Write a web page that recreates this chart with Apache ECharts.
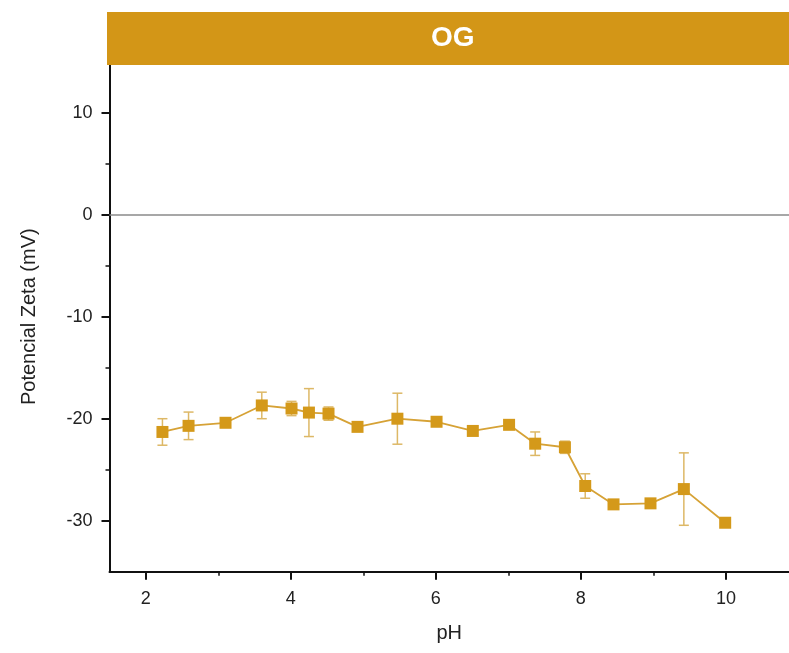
<!DOCTYPE html>
<html>
<head>
<meta charset="utf-8">
<script src="https://cdn.jsdelivr.net/npm/echarts@6/dist/echarts.min.js"></script>
<style>html,body{margin:0;padding:0;background:#fff}#c{width:789px;height:653px}</style>
</head>
<body>
<div id="c"></div>
<script>
// Data
const pH =      [2.23, 2.59, 3.10, 3.60, 4.01, 4.25, 4.52, 4.92, 5.47, 6.01, 6.51, 7.01, 7.37, 7.78, 8.06, 8.45, 8.96, 9.42, 9.99];
const zeta =    [-21.3, -20.7, -20.4, -18.7, -19.0, -19.4, -19.5, -20.8, -20.0, -20.3, -21.2, -20.6, -22.45, -22.8, -26.6, -28.4, -28.3, -26.9, -30.2];
const zetaErr = [1.3, 1.35, 0, 1.3, 0.7, 2.35, 0.65, 0, 2.5, 0, 0, 0, 1.15, 0.6, 1.2, 0, 0, 3.55, 0];
const xMajorTicks = [2, 4, 6, 8, 10];
const xMinorTicks = [3, 5, 7, 9];
const yMajorTicks = [-30, -20, -10, 0, 10];
const yMinorTicks = [-25, -15, -5, 5];
const titleText = 'OG';

const gold = '#D4991A';
const lineData = pH.map((x, i) => [x, zeta[i]]);
const errData = pH.map((x, i) => [x, zeta[i] - zetaErr[i], zeta[i] + zetaErr[i]]).filter((d, i) => zetaErr[i] > 0);

const chart = echarts.init(document.getElementById('c'), null, {renderer: 'canvas'});
const font = '"Liberation Sans", Arial, sans-serif';
const axisCommon = {
  type: 'value',
  splitLine: {show: false},
  axisLine: {show: true, onZero: false, lineStyle: {color: '#111', width: 2}},
};
chart.setOption({
  animation: false,
  grid: {left: 109.5, right: 0, top: 61.7, bottom: 81.3, containLabel: false},
  xAxis: [
    Object.assign({}, axisCommon, {
      min: 1.5, max: 10.87,
      name: 'pH', nameLocation: 'middle', nameGap: 52,
      nameTextStyle: {fontFamily: font, fontSize: 20, color: '#222'},
      axisTick: {show: true, inside: false, length: 8, lineStyle: {color: '#111', width: 2}, customValues: xMajorTicks},
      axisLabel: {show: true, margin: 18, fontFamily: font, fontSize: 18, color: '#222', customValues: xMajorTicks}
    }),
    Object.assign({}, axisCommon, {
      min: 1.5, max: 10.87, position: 'bottom',
      axisLine: {show: false, onZero: false},
      axisTick: {show: true, length: 4, lineStyle: {color: '#111', width: 1.5}, customValues: xMinorTicks},
      axisLabel: {show: false}
    })
  ],
  yAxis: [
    Object.assign({}, axisCommon, {
      min: -35, max: 15,
      name: 'Potencial Zeta (mV)', nameLocation: 'middle', nameGap: 70,
      nameTextStyle: {fontFamily: font, fontSize: 20, color: '#222'},
      axisTick: {show: true, length: 8, lineStyle: {color: '#111', width: 2}, customValues: yMajorTicks},
      axisLabel: {show: true, margin: 17, fontFamily: font, fontSize: 18, color: '#222', customValues: yMajorTicks}
    }),
    Object.assign({}, axisCommon, {
      min: -35, max: 15, position: 'left',
      axisLine: {show: false, onZero: false},
      axisTick: {show: true, length: 4, lineStyle: {color: '#111', width: 1.5}, customValues: yMinorTicks},
      axisLabel: {show: false}
    })
  ],
  series: [
    {
      type: 'custom',
      xAxisIndex: 0, yAxisIndex: 0,
      data: errData,
      z: 1,
      renderItem: function (params, api) {
        const x = api.value(0);
        const lo = api.coord([x, api.value(1)]);
        const hi = api.coord([x, api.value(2)]);
        const hw = 5;
        const st = {stroke: '#DDB866', lineWidth: 1.5};
        return {
          type: 'group',
          children: [
            {type: 'line', shape: {x1: lo[0], y1: lo[1], x2: hi[0], y2: hi[1]}, style: st},
            {type: 'line', shape: {x1: lo[0] - hw, y1: lo[1], x2: lo[0] + hw, y2: lo[1]}, style: st},
            {type: 'line', shape: {x1: hi[0] - hw, y1: hi[1], x2: hi[0] + hw, y2: hi[1]}, style: st}
          ]
        };
      }
    },
    {
      type: 'line',
      xAxisIndex: 0, yAxisIndex: 0,
      data: lineData,
      z: 3,
      symbol: 'rect', symbolSize: 12,
      itemStyle: {color: gold},
      lineStyle: {color: '#D6A236', width: 1.8},
      markLine: {
        silent: true, symbol: ['none', 'none'],
        label: {show: false},
        lineStyle: {color: '#8a8a8a', width: 1.5, type: 'solid'},
        data: [{yAxis: 0}]
      }
    }
  ],
  graphic: [
    {type: 'rect', left: 107, top: 12, z: 100, shape: {width: 682, height: 53}, style: {fill: '#D39617'}},
    {type: 'text', left: 453 - 22, top: 24, z: 101, style: {text: titleText, fill: '#fff', font: 'bold 28px "Liberation Sans", Arial, sans-serif', width: 60, align: 'center'}}
  ]
});
</script>
</body>
</html>
